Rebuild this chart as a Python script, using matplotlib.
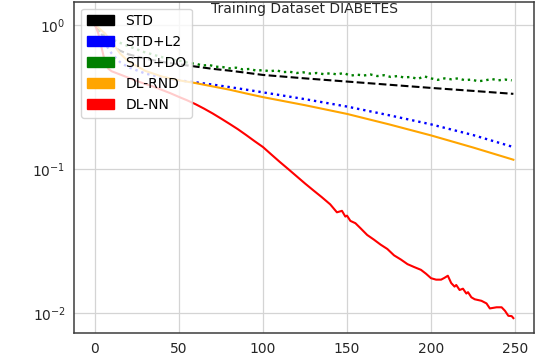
import matplotlib
matplotlib.use('Agg')
import matplotlib.pyplot as plt
from matplotlib.patches import Patch

# epochs / loss values
std_x = [0, 3, 6, 10, 15, 20, 30, 40, 50, 60, 70, 80, 90, 100, 125, 150, 175, 200, 225, 249]
std_y = [1.0, 0.891, 0.794, 0.716, 0.661, 0.624, 0.582, 0.553, 0.532, 0.513, 0.495, 0.481,
         0.465, 0.449, 0.425, 0.404, 0.384, 0.365, 0.348, 0.332]

l2_x = [0, 3, 6, 10, 15, 20, 30, 40, 50, 60, 70, 80, 90, 100, 125, 150, 175, 200, 225, 249]
l2_y = [1.0, 0.871, 0.741, 0.631, 0.550, 0.507, 0.459, 0.432, 0.412, 0.399, 0.385, 0.370,
        0.355, 0.340, 0.305, 0.271, 0.236, 0.204, 0.172, 0.142]

do_x = list(range(0, 249, 4))
do_y = [1.0, 0.871, 0.813, 0.776, 0.741, 0.708, 0.684, 0.653, 0.634, 0.614, 0.596, 0.586,
        0.566, 0.560, 0.542, 0.537, 0.522, 0.526, 0.512, 0.509, 0.499, 0.504, 0.490, 0.494,
        0.481, 0.485, 0.476, 0.483, 0.470, 0.472, 0.463, 0.468, 0.459, 0.463, 0.455, 0.461,
        0.453, 0.463, 0.444, 0.451, 0.445, 0.452, 0.441, 0.447, 0.435, 0.441, 0.431, 0.435,
        0.421, 0.439, 0.425, 0.415, 0.425, 0.419, 0.425, 0.413, 0.417, 0.406, 0.411, 0.421,
        0.412, 0.417, 0.412]

rnd_x = [0, 3, 6, 10, 15, 20, 30, 40, 50, 60, 70, 80, 90, 100, 125, 150, 175, 200, 225, 249]
rnd_y = [1.0, 0.933, 0.871, 0.759, 0.631, 0.556, 0.479, 0.437, 0.412, 0.394, 0.374, 0.355,
         0.334, 0.315, 0.277, 0.241, 0.204, 0.171, 0.141, 0.116]

nn_x = [0, 2, 4, 6, 8, 10, 15, 20, 25, 30, 35, 40, 45, 50, 55, 60, 65, 70, 75, 80, 85, 90,
        95, 100, 105, 110, 115, 120, 125, 130, 135, 140, 144, 147, 149, 150, 152, 155, 158,
        162, 166, 170, 174, 178, 182, 186, 190, 194, 197, 200, 203, 206, 208, 210, 212, 214,
        215, 217, 219, 221, 222, 224, 226, 230, 233, 235, 239, 242, 244, 246, 248, 249]
nn_y = [1.0, 0.871, 0.692, 0.550, 0.495, 0.476, 0.452, 0.429, 0.407, 0.389, 0.372, 0.353,
        0.335, 0.316, 0.299, 0.281, 0.262, 0.243, 0.224, 0.206, 0.189, 0.172, 0.156, 0.142,
        0.126, 0.112, 0.100, 0.0891, 0.0794, 0.0711, 0.0638, 0.0569, 0.0501, 0.0513, 0.0468,
        0.0475, 0.0437, 0.0421, 0.0389, 0.0349, 0.0324, 0.0299, 0.0279, 0.0252, 0.0236,
        0.0219, 0.0209, 0.0200, 0.0188, 0.0175, 0.0171, 0.0171, 0.0176, 0.0182, 0.0162,
        0.0153, 0.0157, 0.0145, 0.0148, 0.0137, 0.0140, 0.0129, 0.0125, 0.0122, 0.0117,
        0.0108, 0.0110, 0.0110, 0.0104, 0.0096, 0.00955, 0.00925]

labels = ['STD', 'STD+L2', 'STD+DO', 'DL-RND', 'DL-NN']
colors = ['black', 'blue', 'green', 'orange', 'red']

plt.rcParams['font.family'] = 'DejaVu Sans'
plt.rcParams['font.size'] = 10

fig = plt.figure(figsize=(5.52, 3.56), dpi=100)
ax = fig.add_subplot(111)
fig.subplots_adjust(left=74/552, right=534.3/552, bottom=1-333.3/356, top=1-1.7/356)

ax.plot(std_x, std_y, color='black', linestyle='--', lw=1.5)
ax.plot(l2_x, l2_y, color='blue', linestyle=':', lw=1.7)
ax.plot(do_x, do_y, color='green', linestyle=':', lw=1.7)
ax.plot(rnd_x, rnd_y, color='orange', lw=1.5)
ax.plot(nn_x, nn_y, color='red', lw=1.5)

ax.set_yscale('log')
ax.set_ylim(10**-2.139, 10**0.160)
ax.set_xlim(-12.45, 261.45)
ax.set_xticks([0, 50, 100, 150, 200, 250])
ax.minorticks_off()

ax.grid(True, color='#d4d4d4', lw=0.9)
ax.set_axisbelow(True)
for s in ax.spines.values():
    s.set_color('#3c3c3c')
    s.set_linewidth(1.1)
ax.tick_params(length=0, pad=6, labelsize=10, colors='#262626')

ax.text(0.5, 1.0, 'Training Dataset DIABETES', transform=ax.transAxes,
        ha='center', va='top', fontsize=10, color='#262626')

handles = [Patch(color=c, label=l) for c, l in zip(colors, labels)]
leg = ax.legend(handles=handles, loc='upper left', fontsize=10,
                framealpha=0.8, edgecolor='#cccccc', labelspacing=0.5)

plt.savefig('out.png', dpi=100)
